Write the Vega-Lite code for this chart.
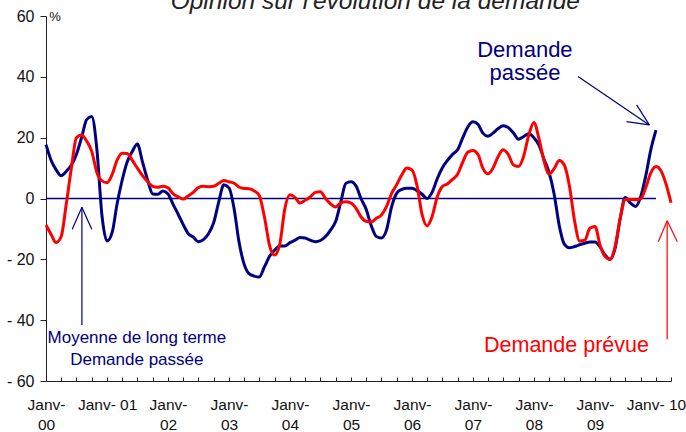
{
  "$schema": "https://vega.github.io/schema/vega-lite/v6.json",
  "width": 625,
  "height": 365,
  "autosize": "none",
  "padding": {"left": 46, "top": 16, "right": 15, "bottom": 51},
  "config": {"font": "Liberation Sans", "view": {"stroke": null}},
  "datasets": {
    "series": [
      {"d":"2000-01-01","p":17.7,"f":-8.7},{"d":"2000-02-01","p":12.5,"f":-11.8},{"d":"2000-03-01","p":9.5,"f":-14.5},{"d":"2000-04-01","p":7.5,"f":-12.5},
      {"d":"2000-05-01","p":8.9,"f":-2},{"d":"2000-06-01","p":11,"f":10},{"d":"2000-07-01","p":14.5,"f":20},{"d":"2000-08-01","p":20,"f":21},
      {"d":"2000-09-01","p":26,"f":18.8},{"d":"2000-10-01","p":27,"f":15.5},{"d":"2000-11-01","p":16,"f":8.5},{"d":"2000-12-01","p":-5.5,"f":5.8},
      {"d":"2001-01-01","p":-14,"f":5.2},{"d":"2001-02-01","p":-11,"f":8},{"d":"2001-03-01","p":-2,"f":12.5},{"d":"2001-04-01","p":6,"f":14.9},
      {"d":"2001-05-01","p":12,"f":14.8},{"d":"2001-06-01","p":15.5,"f":12.5},{"d":"2001-07-01","p":17.9,"f":10},{"d":"2001-08-01","p":12,"f":7.5},
      {"d":"2001-09-01","p":6,"f":5.5},{"d":"2001-10-01","p":1.5,"f":4},{"d":"2001-11-01","p":1.4,"f":3.7},{"d":"2001-12-01","p":2.5,"f":4},
      {"d":"2002-01-01","p":1.5,"f":3.5},{"d":"2002-02-01","p":-2,"f":1.5},{"d":"2002-03-01","p":-5,"f":0.6},{"d":"2002-04-01","p":-8.5,"f":-0.2},
      {"d":"2002-05-01","p":-11.5,"f":0.8},{"d":"2002-06-01","p":-12.7,"f":2},{"d":"2002-07-01","p":-14.2,"f":3.6},{"d":"2002-08-01","p":-13.5,"f":4},
      {"d":"2002-09-01","p":-11.5,"f":3.9},{"d":"2002-10-01","p":-8,"f":4},{"d":"2002-11-01","p":-1,"f":5},{"d":"2002-12-01","p":4.5,"f":5.9},
      {"d":"2003-01-01","p":3.5,"f":5.5},{"d":"2003-02-01","p":-3.5,"f":5},{"d":"2003-03-01","p":-14,"f":3.8},{"d":"2003-04-01","p":-21.5,"f":3.3},
      {"d":"2003-05-01","p":-24.7,"f":3.2},{"d":"2003-06-01","p":-25.5,"f":2.5},{"d":"2003-07-01","p":-25.8,"f":1},{"d":"2003-08-01","p":-22.5,"f":-6},
      {"d":"2003-09-01","p":-19,"f":-15.5},{"d":"2003-10-01","p":-17,"f":-18.6},{"d":"2003-11-01","p":-15.6,"f":-15},{"d":"2003-12-01","p":-15.6,"f":-3.5},
      {"d":"2004-01-01","p":-14.5,"f":1.2},{"d":"2004-02-01","p":-13.7,"f":0.3},{"d":"2004-03-01","p":-12.8,"f":-1.5},{"d":"2004-04-01","p":-13,"f":-0.6},
      {"d":"2004-05-01","p":-13.7,"f":0.5},{"d":"2004-06-01","p":-14.2,"f":2},{"d":"2004-07-01","p":-13.8,"f":2.2},{"d":"2004-08-01","p":-12.5,"f":0},
      {"d":"2004-09-01","p":-10.3,"f":-1.8},{"d":"2004-10-01","p":-7.5,"f":-2.8},{"d":"2004-11-01","p":-1,"f":-1.4},{"d":"2004-12-01","p":5,"f":-1.1},
      {"d":"2005-01-01","p":5.5,"f":-1.5},{"d":"2005-02-01","p":4,"f":-3.3},{"d":"2005-03-01","p":0,"f":-6},{"d":"2005-04-01","p":-3.5,"f":-7.5},
      {"d":"2005-05-01","p":-8.8,"f":-7.7},{"d":"2005-06-01","p":-12.5,"f":-6.5},{"d":"2005-07-01","p":-13,"f":-5.5},{"d":"2005-08-01","p":-10.4,"f":-2.7},
      {"d":"2005-09-01","p":-2.7,"f":1.7},{"d":"2005-10-01","p":1.7,"f":4.5},{"d":"2005-11-01","p":3,"f":7.8},{"d":"2005-12-01","p":3.4,"f":10},
      {"d":"2006-01-01","p":3.4,"f":9.4},{"d":"2006-02-01","p":2.5,"f":4},{"d":"2006-03-01","p":1.5,"f":-5},{"d":"2006-04-01","p":0,"f":-9},
      {"d":"2006-05-01","p":2,"f":-6},{"d":"2006-06-01","p":6.5,"f":0.5},{"d":"2006-07-01","p":10,"f":3.9},{"d":"2006-08-01","p":12.5,"f":4.8},
      {"d":"2006-09-01","p":14.5,"f":6.3},{"d":"2006-10-01","p":16,"f":8},{"d":"2006-11-01","p":20,"f":12},{"d":"2006-12-01","p":23.5,"f":15.2},
      {"d":"2007-01-01","p":25.2,"f":15.8},{"d":"2007-02-01","p":24.3,"f":14.4},{"d":"2007-03-01","p":21.5,"f":10},{"d":"2007-04-01","p":20.5,"f":8.1},
      {"d":"2007-05-01","p":21.5,"f":10},{"d":"2007-06-01","p":23,"f":13.8},{"d":"2007-07-01","p":23.9,"f":16},{"d":"2007-08-01","p":23.3,"f":14.4},
      {"d":"2007-09-01","p":21.5,"f":11},{"d":"2007-10-01","p":19.5,"f":10.5},{"d":"2007-11-01","p":20.4,"f":14},{"d":"2007-12-01","p":21.3,"f":20.8},
      {"d":"2008-01-01","p":20,"f":25},{"d":"2008-02-01","p":17.5,"f":19.5},{"d":"2008-03-01","p":13,"f":12.5},{"d":"2008-04-01","p":8.5,"f":8},
      {"d":"2008-05-01","p":1.5,"f":9.8},{"d":"2008-06-01","p":-9,"f":12.5},{"d":"2008-07-01","p":-15,"f":11},{"d":"2008-08-01","p":-16.2,"f":4},
      {"d":"2008-09-01","p":-15.8,"f":-7.5},{"d":"2008-10-01","p":-15.2,"f":-14},{"d":"2008-11-01","p":-14.7,"f":-13.7},{"d":"2008-12-01","p":-14.3,"f":-9.8},
      {"d":"2009-01-01","p":-14.3,"f":-9.2},{"d":"2009-02-01","p":-16,"f":-15.5},{"d":"2009-03-01","p":-18.5,"f":-19},{"d":"2009-04-01","p":-20,"f":-20},
      {"d":"2009-05-01","p":-16.4,"f":-15.9},{"d":"2009-06-01","p":-6.5,"f":-6.5},{"d":"2009-07-01","p":0.3,"f":-0.3},{"d":"2009-08-01","p":-1.5,"f":-0.3},
      {"d":"2009-09-01","p":-2.6,"f":-0.4},{"d":"2009-10-01","p":0.5,"f":-0.2},{"d":"2009-11-01","p":7.5,"f":3.6},{"d":"2009-12-01","p":16,"f":8.4},
      {"d":"2010-01-01","p":22.5,"f":10.5},{"d":"2010-02-01","f":9},{"d":"2010-03-01","f":5},{"d":"2010-04-01","f":-1.4}
    ]
  },
  "layer": [
    {
      "data": {"values": [{}]},
      "mark": {"type": "rule", "color": "#000080", "strokeWidth": 1.5},
      "encoding": {
        "x": {
          "datum": {"year": 2000, "month": 1, "date": 1, "utc": true}, "type": "temporal",
          "scale": {"type": "utc", "nice": false, "domain": [{"year": 2000, "month": 1, "date": 1, "utc": true}, {"year": 2010, "month": 4, "date": 1, "utc": true}]},
          "axis": {
            "title": null, "grid": false, "orient": "bottom",
            "tickCount": {"interval": "month", "step": 3},
            "tickSize": -4, "tickColor": "#222222", "domainColor": "#222222",
            "labelOverlap": false, "labelFlush": false, "labelAngle": 0,
            "labelFontSize": 15.5, "labelColor": "#111111", "labelLineHeight": 20,
            "labelBaseline": "top", "labelPadding": 20,
            "labelExpr": "utcmonth(datum.value) == 0 ? ((utcyear(datum.value) == 2001 || utcyear(datum.value) == 2010) ? 'Janv- ' + utcFormat(datum.value, '%y') : ['Janv-', utcFormat(datum.value, '%y')]) : ''"
          }
        },
        "x2": {"datum": {"year": 2010, "month": 1, "date": 1, "utc": true}},
        "y": {
          "datum": 0, "type": "quantitative",
          "scale": {"domain": [-60, 60], "nice": false, "zero": false},
          "axis": {
            "title": null, "grid": false, "values": [-60, -40, -20, 0, 20, 40, 60],
            "tickSize": 6, "tickColor": "#222222", "domainColor": "#222222",
            "labelFontSize": 16, "labelColor": "#111111", "labelPadding": 6,
            "labelExpr": "datum.value < 0 ? '- ' + abs(datum.value) : datum.label"
          }
        }
      }
    },
    {
      "data": {"name": "series"},
      "mark": {"type": "line", "color": "#000080", "strokeWidth": 3, "interpolate": "monotone"},
      "encoding": {
        "x": {"field": "d", "type": "temporal"},
        "y": {"field": "p", "type": "quantitative"}
      }
    },
    {
      "data": {"name": "series"},
      "mark": {"type": "line", "color": "#ff0000", "strokeWidth": 3, "interpolate": "monotone"},
      "encoding": {
        "x": {"field": "d", "type": "temporal"},
        "y": {"field": "f", "type": "quantitative"}
      }
    },
    {
      "data": {"values": [{}]},
      "mark": {"type": "rule", "color": "#000080", "strokeWidth": 1.2},
      "encoding": {
        "x": {"datum": {"year": 2000, "month": 8, "date": 3, "utc": true}, "type": "temporal"},
        "y": {"datum": -2.9, "type": "quantitative"},
        "y2": {"datum": -41.6}
      }
    },
    {
      "data": {"values": [{}]},
      "mark": {"type": "rule", "color": "#000080", "strokeWidth": 1.2},
      "encoding": {
        "x": {"datum": {"year": 2000, "month": 6, "date": 6, "utc": true}, "type": "temporal"},
        "x2": {"datum": {"year": 2000, "month": 8, "date": 3, "utc": true}},
        "y": {"datum": -10.1, "type": "quantitative"},
        "y2": {"datum": -2.9}
      }
    },
    {
      "data": {"values": [{}]},
      "mark": {"type": "rule", "color": "#000080", "strokeWidth": 1.2},
      "encoding": {
        "x": {"datum": {"year": 2000, "month": 10, "date": 1, "utc": true}, "type": "temporal"},
        "x2": {"datum": {"year": 2000, "month": 8, "date": 3, "utc": true}},
        "y": {"datum": -10.1, "type": "quantitative"},
        "y2": {"datum": -2.9}
      }
    },
    {
      "data": {"values": [{}]},
      "mark": {"type": "rule", "color": "#000080", "strokeWidth": 1.2},
      "encoding": {
        "x": {"datum": {"year": 2008, "month": 9, "date": 21, "utc": true}, "type": "temporal"},
        "x2": {"datum": {"year": 2009, "month": 11, "date": 22, "utc": true}},
        "y": {"datum": 40.1, "type": "quantitative"},
        "y2": {"datum": 24.2}
      }
    },
    {
      "data": {"values": [{}]},
      "mark": {"type": "rule", "color": "#000080", "strokeWidth": 1.2},
      "encoding": {
        "x": {"datum": {"year": 2009, "month": 9, "date": 7, "utc": true}, "type": "temporal"},
        "x2": {"datum": {"year": 2009, "month": 11, "date": 22, "utc": true}},
        "y": {"datum": 30.8, "type": "quantitative"},
        "y2": {"datum": 24.2}
      }
    },
    {
      "data": {"values": [{}]},
      "mark": {"type": "rule", "color": "#000080", "strokeWidth": 1.2},
      "encoding": {
        "x": {"datum": {"year": 2009, "month": 7, "date": 8, "utc": true}, "type": "temporal"},
        "x2": {"datum": {"year": 2009, "month": 11, "date": 22, "utc": true}},
        "y": {"datum": 25.3, "type": "quantitative"},
        "y2": {"datum": 24.2}
      }
    },
    {
      "data": {"values": [{}]},
      "mark": {"type": "rule", "color": "#ff0000", "strokeWidth": 1.2},
      "encoding": {
        "x": {"datum": {"year": 2010, "month": 3, "date": 9, "utc": true}, "type": "temporal"},
        "y": {"datum": -7.3, "type": "quantitative"},
        "y2": {"datum": -46.3}
      }
    },
    {
      "data": {"values": [{}]},
      "mark": {"type": "rule", "color": "#ff0000", "strokeWidth": 1.2},
      "encoding": {
        "x": {"datum": {"year": 2010, "month": 1, "date": 15, "utc": true}, "type": "temporal"},
        "x2": {"datum": {"year": 2010, "month": 3, "date": 9, "utc": true}},
        "y": {"datum": -14.2, "type": "quantitative"},
        "y2": {"datum": -7.3}
      }
    },
    {
      "data": {"values": [{}]},
      "mark": {"type": "rule", "color": "#ff0000", "strokeWidth": 1.2},
      "encoding": {
        "x": {"datum": {"year": 2010, "month": 5, "date": 9, "utc": true}, "type": "temporal"},
        "x2": {"datum": {"year": 2010, "month": 3, "date": 9, "utc": true}},
        "y": {"datum": -14.2, "type": "quantitative"},
        "y2": {"datum": -7.3}
      }
    },
    {
      "data": {"values": [{}]},
      "mark": {"type": "text", "color": "#000080", "fontSize": 22, "align": "center", "baseline": "alphabetic", "lineHeight": 23.3},
      "encoding": {
        "x": {"datum": {"year": 2007, "month": 11, "date": 8, "utc": true}, "type": "temporal"},
        "y": {"datum": 46.6, "type": "quantitative"},
        "text": {"value": ["Demande", "passée"]}
      }
    },
    {
      "data": {"values": [{}]},
      "mark": {"type": "text", "color": "#000080", "fontSize": 17, "align": "center", "baseline": "alphabetic", "lineHeight": 21.7},
      "encoding": {
        "x": {"datum": {"year": 2001, "month": 6, "date": 28, "utc": true}, "type": "temporal"},
        "y": {"datum": -47.6, "type": "quantitative"},
        "text": {"value": ["Moyenne de long terme", "Demande passée"]}
      }
    },
    {
      "data": {"values": [{}]},
      "mark": {"type": "text", "color": "#ff0000", "fontSize": 21.5, "align": "center", "baseline": "alphabetic"},
      "encoding": {
        "x": {"datum": {"year": 2008, "month": 7, "date": 14, "utc": true}, "type": "temporal"},
        "y": {"datum": -50.4, "type": "quantitative"},
        "text": {"value": "Demande prévue"}
      }
    },
    {
      "data": {"values": [{}]},
      "mark": {"type": "text", "color": "#222222", "fontSize": 24.5, "fontStyle": "italic", "align": "center", "baseline": "alphabetic"},
      "encoding": {
        "x": {"datum": {"year": 2005, "month": 5, "date": 26, "utc": true}, "type": "temporal"},
        "y": {"datum": 62.2, "type": "quantitative"},
        "text": {"value": "Opinion sur l'évolution de la demande"}
      }
    },
    {
      "data": {"values": [{}]},
      "mark": {"type": "text", "color": "#111111", "fontSize": 13, "align": "left", "baseline": "alphabetic"},
      "encoding": {
        "x": {"datum": {"year": 2000, "month": 1, "date": 20, "utc": true}, "type": "temporal"},
        "y": {"datum": 58.4, "type": "quantitative"},
        "text": {"value": "%"}
      }
    }
  ]
}
